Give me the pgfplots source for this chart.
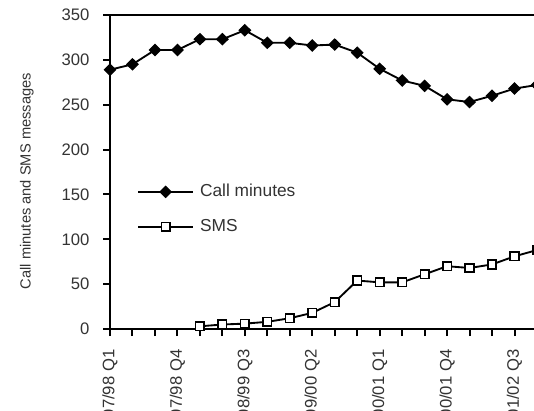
\documentclass[border=0pt]{standalone}
\usepackage{fontspec}
\setmainfont{Liberation Sans}
\usepackage{pgfplots}
\pgfplotsset{compat=1.18}
\begin{document}
\begin{tikzpicture}
\path[use as bounding box, clip] (0,0) rectangle (400.5pt,307.5pt);
\begin{axis}[
  at={(82.5pt,60.75pt)}, anchor=south west,
  scale only axis, width=320.25pt, height=235.5pt,
  xmin=0, xmax=19, ymin=0, ymax=350,
  ytick={0,50,...,350},
  xtick={0,...,18},
  xticklabels={97/98 Q1,,,97/98 Q4,,,98/99 Q3,,,99/00 Q2,,,00/01 Q1,,,00/01 Q4,,,01/02 Q3},
  tick align=outside, tick pos=left,
  major tick length=5.25pt,
  every tick/.style={black, line width=1.5pt},
  axis line style={line width=1.6pt},
  /pgf/number format/assume math mode=true,
  tick label style={font=\fontsize{12.5}{14}\selectfont, text=black!80},
  yticklabel style={anchor=east, inner sep=0pt, xshift=-10pt},
  xticklabel style={yshift=-10pt, rotate=90, anchor=east, inner sep=0pt},
  ylabel={Call minutes and SMS messages},
  ylabel style={at={(axis description cs:-0.178,0.471)}, anchor=south, inner sep=0pt, font=\fontsize{11}{13}\selectfont, text=black!80},
  clip mode=global,
  legend style={at={(axis description cs:0.0632,0.381)}, anchor=west, draw=none, fill=none, inner sep=0pt,
    font=\fontsize{13}{15}\selectfont, text=black!80, row sep=13.25pt, column sep=4.5pt,
    nodes={inner sep=0pt, text height=10pt, text depth=3pt}},
  legend cell align=left,
  legend image code/.code={\draw[mark repeat=2, mark phase=2] plot coordinates {(0pt,0pt) (20.6pt,0pt) (41.2pt,0pt)};},
]
\addplot[black, line width=1.4pt, mark=diamond*, mark size=4.2pt, mark options={xscale=1.35, fill=black, line width=0.8pt}]
  coordinates {(0,289) (1,295) (2,311) (3,311) (4,323) (5,323) (6,333) (7,319) (8,319) (9,316) (10,317) (11,308) (12,290) (13,277) (14,271) (15,256) (16,253) (17,260) (18,268) (19,272)};
\addlegendentry{Call minutes}
\addplot[black, line width=1.4pt, mark=square*, mark size=3.2pt, mark options={fill=white, line width=1.25pt}]
  coordinates {(4,3) (5,5) (6,6) (7,8) (8,12) (9,18) (10,30) (11,54) (12,52) (13,52) (14,61) (15,70) (16,68) (17,72) (18,81) (19,88)};
\addlegendentry{SMS}
\end{axis}
\end{tikzpicture}
\end{document}
